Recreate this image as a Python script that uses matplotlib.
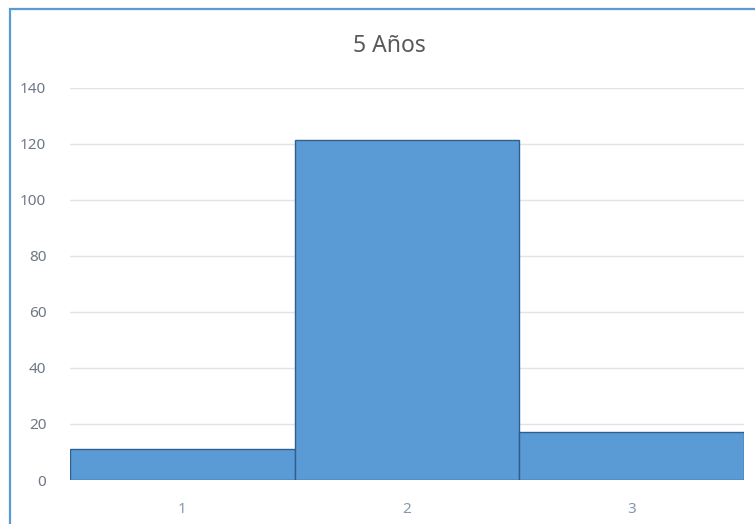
import numpy as np
import matplotlib
matplotlib.use("Agg")
import matplotlib.pyplot as plt
from matplotlib.patches import Rectangle

plt.rcParams['font.family'] = ['Noto Sans', 'DejaVu Sans']

# data
categories = ["1", "2", "3"]
values = [11, 121.5, 17]
title = "5 Años"
y_ticks = [0, 20, 40, 60, 80, 100, 120, 140]

W, H = 755, 524
fig = plt.figure(figsize=(W / 100, H / 100), dpi=100)
fig.patch.set_facecolor("white")

# plot area in pixels: x 70..744, y 87.7..480
ax = fig.add_axes([70 / W, (H - 480) / H, 674 / W, (480 - 87.7) / H])

x = np.arange(len(categories))
ax.bar(x, values, width=1.0, color="#5b9bd5", edgecolor="#2e5f8f",
       linewidth=1.0, zorder=3)

ax.set_xlim(-0.5, len(categories) - 0.5)
ax.set_ylim(0, 140)
ax.set_yticks(y_ticks)
ax.set_xticks(x)
ax.set_xticklabels(categories)

ax.grid(axis="y", color="#e3e3e3", linewidth=1.0, zorder=0)
ax.set_axisbelow(True)
for s in ax.spines.values():
    s.set_visible(False)

ax.tick_params(axis="y", length=0, pad=17, labelsize=11, labelcolor="#6e7785")
ax.tick_params(axis="x", length=0, pad=16, labelsize=11, labelcolor="#8497b0")

fig.text(389 / W, 1 - 46 / H, title, ha="center", va="center",
         fontsize=16.5, color="#595959")

# chart frame, only the top and left edges are inside the crop
fig.patches.append(Rectangle((10 / W, -0.1), 1.1, 1 - 9 / H + 0.1,
                             transform=fig.transFigure, fill=False,
                             edgecolor="#5b9bd5", linewidth=1.6, clip_on=False))

fig.savefig("out.png", dpi=100)
